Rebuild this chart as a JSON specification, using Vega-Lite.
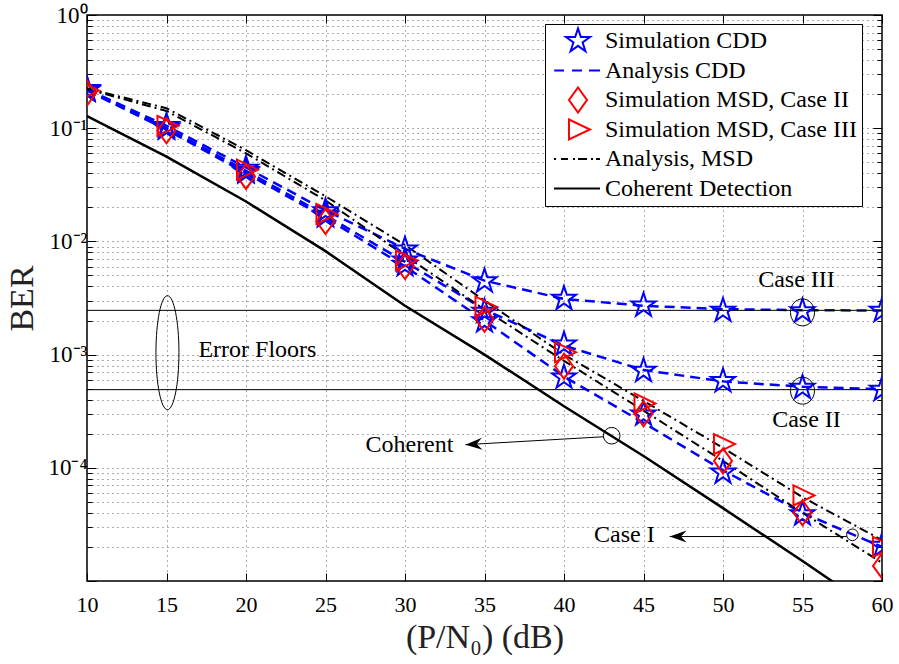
{
  "$schema": "https://vega.github.io/schema/vega-lite/v6.json",
  "width": 795,
  "height": 566,
  "autosize": "none",
  "padding": {"left": 87, "top": 15, "right": 17, "bottom": 83},
  "background": "white",
  "config": {
    "view": {"stroke": "black", "strokeWidth": 1.5},
    "font": "Liberation Serif"
  },
  "datasets": {
    "pts": [
      {"series": "Simulation CDD", "curve": "I", "snr": 10, "ber": 0.215},
      {"series": "Simulation CDD", "curve": "I", "snr": 15, "ber": 0.1},
      {"series": "Simulation CDD", "curve": "I", "snr": 20, "ber": 0.041},
      {"series": "Simulation CDD", "curve": "I", "snr": 25, "ber": 0.0168},
      {"series": "Simulation CDD", "curve": "I", "snr": 30, "ber": 0.0062},
      {"series": "Simulation CDD", "curve": "I", "snr": 35, "ber": 0.00198},
      {"series": "Simulation CDD", "curve": "I", "snr": 40, "ber": 0.00063},
      {"series": "Simulation CDD", "curve": "I", "snr": 45, "ber": 0.000297},
      {"series": "Simulation CDD", "curve": "I", "snr": 50, "ber": 0.000091},
      {"series": "Simulation CDD", "curve": "I", "snr": 55, "ber": 0.000039},
      {"series": "Simulation CDD", "curve": "I", "snr": 60, "ber": 0.0000205},
      {"series": "Simulation CDD", "curve": "II", "snr": 10, "ber": 0.218},
      {"series": "Simulation CDD", "curve": "II", "snr": 15, "ber": 0.102},
      {"series": "Simulation CDD", "curve": "II", "snr": 20, "ber": 0.042},
      {"series": "Simulation CDD", "curve": "II", "snr": 25, "ber": 0.0172},
      {"series": "Simulation CDD", "curve": "II", "snr": 30, "ber": 0.0068},
      {"series": "Simulation CDD", "curve": "II", "snr": 35, "ber": 0.0024},
      {"series": "Simulation CDD", "curve": "II", "snr": 40, "ber": 0.00123},
      {"series": "Simulation CDD", "curve": "II", "snr": 45, "ber": 0.00072},
      {"series": "Simulation CDD", "curve": "II", "snr": 50, "ber": 0.000585},
      {"series": "Simulation CDD", "curve": "II", "snr": 55, "ber": 0.00051},
      {"series": "Simulation CDD", "curve": "II", "snr": 60, "ber": 0.00049},
      {"series": "Simulation CDD", "curve": "III", "snr": 10, "ber": 0.222},
      {"series": "Simulation CDD", "curve": "III", "snr": 15, "ber": 0.105},
      {"series": "Simulation CDD", "curve": "III", "snr": 20, "ber": 0.044},
      {"series": "Simulation CDD", "curve": "III", "snr": 25, "ber": 0.0185},
      {"series": "Simulation CDD", "curve": "III", "snr": 30, "ber": 0.0085},
      {"series": "Simulation CDD", "curve": "III", "snr": 35, "ber": 0.00445},
      {"series": "Simulation CDD", "curve": "III", "snr": 40, "ber": 0.00312},
      {"series": "Simulation CDD", "curve": "III", "snr": 45, "ber": 0.00272},
      {"series": "Simulation CDD", "curve": "III", "snr": 50, "ber": 0.00245},
      {"series": "Simulation CDD", "curve": "III", "snr": 55, "ber": 0.00242},
      {"series": "Simulation CDD", "curve": "III", "snr": 60, "ber": 0.00244},
      {"series": "Simulation MSD, Case II", "curve": "II", "snr": 10, "ber": 0.205},
      {"series": "Simulation MSD, Case II", "curve": "II", "snr": 15, "ber": 0.095},
      {"series": "Simulation MSD, Case II", "curve": "II", "snr": 20, "ber": 0.0375},
      {"series": "Simulation MSD, Case II", "curve": "II", "snr": 25, "ber": 0.015},
      {"series": "Simulation MSD, Case II", "curve": "II", "snr": 30, "ber": 0.006},
      {"series": "Simulation MSD, Case II", "curve": "II", "snr": 35, "ber": 0.00205},
      {"series": "Simulation MSD, Case II", "curve": "II", "snr": 40, "ber": 0.00079},
      {"series": "Simulation MSD, Case II", "curve": "II", "snr": 45, "ber": 0.0003},
      {"series": "Simulation MSD, Case II", "curve": "II", "snr": 50, "ber": 0.000115},
      {"series": "Simulation MSD, Case II", "curve": "II", "snr": 55, "ber": 0.00004},
      {"series": "Simulation MSD, Case II", "curve": "II", "snr": 60, "ber": 0.0000136},
      {"series": "Simulation MSD, Case III", "curve": "III", "snr": 10, "ber": 0.215},
      {"series": "Simulation MSD, Case III", "curve": "III", "snr": 15, "ber": 0.105},
      {"series": "Simulation MSD, Case III", "curve": "III", "snr": 20, "ber": 0.043},
      {"series": "Simulation MSD, Case III", "curve": "III", "snr": 25, "ber": 0.0175},
      {"series": "Simulation MSD, Case III", "curve": "III", "snr": 30, "ber": 0.0068},
      {"series": "Simulation MSD, Case III", "curve": "III", "snr": 35, "ber": 0.00265},
      {"series": "Simulation MSD, Case III", "curve": "III", "snr": 40, "ber": 0.00105},
      {"series": "Simulation MSD, Case III", "curve": "III", "snr": 45, "ber": 0.00037},
      {"series": "Simulation MSD, Case III", "curve": "III", "snr": 50, "ber": 0.000162},
      {"series": "Simulation MSD, Case III", "curve": "III", "snr": 55, "ber": 0.000057},
      {"series": "Simulation MSD, Case III", "curve": "III", "snr": 60, "ber": 0.00002}
    ],
    "lines": [
      {"kind": "cdd", "curve": "cdd1", "snr": 10, "ber": 0.215},
      {"kind": "cdd", "curve": "cdd1", "snr": 15, "ber": 0.097},
      {"kind": "cdd", "curve": "cdd1", "snr": 20, "ber": 0.04},
      {"kind": "cdd", "curve": "cdd1", "snr": 25, "ber": 0.0162},
      {"kind": "cdd", "curve": "cdd1", "snr": 30, "ber": 0.006},
      {"kind": "cdd", "curve": "cdd1", "snr": 35, "ber": 0.002},
      {"kind": "cdd", "curve": "cdd1", "snr": 40, "ber": 0.00064},
      {"kind": "cdd", "curve": "cdd1", "snr": 45, "ber": 0.00025},
      {"kind": "cdd", "curve": "cdd1", "snr": 50, "ber": 0.000095},
      {"kind": "cdd", "curve": "cdd1", "snr": 55, "ber": 0.00004},
      {"kind": "cdd", "curve": "cdd1", "snr": 60, "ber": 0.00002},
      {"kind": "cdd", "curve": "cdd2", "snr": 10, "ber": 0.218},
      {"kind": "cdd", "curve": "cdd2", "snr": 15, "ber": 0.1},
      {"kind": "cdd", "curve": "cdd2", "snr": 20, "ber": 0.042},
      {"kind": "cdd", "curve": "cdd2", "snr": 25, "ber": 0.017},
      {"kind": "cdd", "curve": "cdd2", "snr": 30, "ber": 0.0066},
      {"kind": "cdd", "curve": "cdd2", "snr": 35, "ber": 0.0025},
      {"kind": "cdd", "curve": "cdd2", "snr": 40, "ber": 0.0012},
      {"kind": "cdd", "curve": "cdd2", "snr": 45, "ber": 0.00073},
      {"kind": "cdd", "curve": "cdd2", "snr": 50, "ber": 0.00058},
      {"kind": "cdd", "curve": "cdd2", "snr": 55, "ber": 0.00052},
      {"kind": "cdd", "curve": "cdd2", "snr": 60, "ber": 0.000495},
      {"kind": "cdd", "curve": "cdd3", "snr": 10, "ber": 0.22},
      {"kind": "cdd", "curve": "cdd3", "snr": 15, "ber": 0.105},
      {"kind": "cdd", "curve": "cdd3", "snr": 20, "ber": 0.045},
      {"kind": "cdd", "curve": "cdd3", "snr": 25, "ber": 0.0188},
      {"kind": "cdd", "curve": "cdd3", "snr": 30, "ber": 0.0086},
      {"kind": "cdd", "curve": "cdd3", "snr": 35, "ber": 0.0045},
      {"kind": "cdd", "curve": "cdd3", "snr": 40, "ber": 0.0031},
      {"kind": "cdd", "curve": "cdd3", "snr": 45, "ber": 0.0027},
      {"kind": "cdd", "curve": "cdd3", "snr": 50, "ber": 0.00252},
      {"kind": "cdd", "curve": "cdd3", "snr": 55, "ber": 0.00247},
      {"kind": "cdd", "curve": "cdd3", "snr": 60, "ber": 0.00245},
      {"kind": "msd", "curve": "msd3", "snr": 10, "ber": 0.225},
      {"kind": "msd", "curve": "msd3", "snr": 15, "ber": 0.15},
      {"kind": "msd", "curve": "msd3", "snr": 20, "ber": 0.064},
      {"kind": "msd", "curve": "msd3", "snr": 25, "ber": 0.025},
      {"kind": "msd", "curve": "msd3", "snr": 30, "ber": 0.0093},
      {"kind": "msd", "curve": "msd3", "snr": 35, "ber": 0.003},
      {"kind": "msd", "curve": "msd3", "snr": 40, "ber": 0.001},
      {"kind": "msd", "curve": "msd3", "snr": 45, "ber": 0.00039},
      {"kind": "msd", "curve": "msd3", "snr": 50, "ber": 0.00015},
      {"kind": "msd", "curve": "msd3", "snr": 55, "ber": 0.000055},
      {"kind": "msd", "curve": "msd3", "snr": 60, "ber": 0.000023},
      {"kind": "msd", "curve": "msd2", "snr": 10, "ber": 0.222},
      {"kind": "msd", "curve": "msd2", "snr": 15, "ber": 0.142},
      {"kind": "msd", "curve": "msd2", "snr": 20, "ber": 0.06},
      {"kind": "msd", "curve": "msd2", "snr": 25, "ber": 0.023},
      {"kind": "msd", "curve": "msd2", "snr": 30, "ber": 0.0075},
      {"kind": "msd", "curve": "msd2", "snr": 35, "ber": 0.0025},
      {"kind": "msd", "curve": "msd2", "snr": 40, "ber": 0.00088},
      {"kind": "msd", "curve": "msd2", "snr": 45, "ber": 0.00032},
      {"kind": "msd", "curve": "msd2", "snr": 50, "ber": 0.000115},
      {"kind": "msd", "curve": "msd2", "snr": 55, "ber": 0.00004},
      {"kind": "msd", "curve": "msd2", "snr": 60, "ber": 0.0000145},
      {"kind": "coh", "curve": "coh", "snr": 10, "ber": 0.128},
      {"kind": "coh", "curve": "coh", "snr": 15, "ber": 0.056},
      {"kind": "coh", "curve": "coh", "snr": 20, "ber": 0.0225},
      {"kind": "coh", "curve": "coh", "snr": 25, "ber": 0.0082},
      {"kind": "coh", "curve": "coh", "snr": 30, "ber": 0.0027},
      {"kind": "coh", "curve": "coh", "snr": 35, "ber": 0.001},
      {"kind": "coh", "curve": "coh", "snr": 40, "ber": 0.00035},
      {"kind": "coh", "curve": "coh", "snr": 45, "ber": 0.000127},
      {"kind": "coh", "curve": "coh", "snr": 50, "ber": 0.000044},
      {"kind": "coh", "curve": "coh", "snr": 55, "ber": 0.000015},
      {"kind": "coh", "curve": "coh", "snr": 60, "ber": 0.000005}
    ],
    "floors": [{"ber": 0.00246}, {"ber": 0.00049}],
    "notes": [
      {"label": "Case III", "snr": 54.62, "ber": 0.00459},
      {"label": "Case II", "snr": 55.25, "ber": 0.000266},
      {"label": "Case I", "snr": 43.8, "ber": 0.0000256},
      {"label": "Coherent", "snr": 30.28, "ber": 0.00016},
      {"label": "Error Floors", "snr": 20.72, "ber": 0.0011}
    ],
    "arrows": [
      {"name": "coherent", "snr": 42.49, "ber": 0.000188, "snr2": 33.8, "ber2": 0.00016},
      {"name": "case1", "snr": 57.78, "ber": 0.0000247, "snr2": 46.65, "ber2": 0.0000247}
    ]
  },
  "resolve": {"axis": {"x": "independent", "y": "independent"}},
  "layer": [
    {
      "data": {"name": "lines"},
      "transform": [{"filter": "datum.kind == 'coh'"}],
      "mark": {"type": "line", "stroke": "black", "strokeWidth": 2.5, "clip": true},
      "encoding": {
        "x": {
          "field": "snr", "type": "quantitative",
          "scale": {"domain": [10, 60], "nice": false, "zero": false},
          "axis": {
            "orient": "bottom",
            "values": [10, 15, 20, 25, 30, 35, 40, 45, 50, 55, 60],
            "grid": true, "gridDash": [1, 4], "gridColor": "#333", "gridWidth": 1, "gridOpacity": 0.8,
            "domain": false,
            "tickSize": -8, "tickColor": "black", "tickWidth": 1,
            "labelFont": "Liberation Serif", "labelFontSize": 22, "labelColor": "black",
            "labelFlush": false, "labelAngle": 0, "labelPadding": 21,
            "title": "(P/N₀)  (dB)", "titleFont": "Liberation Serif", "titleFontSize": 34,
            "titleFontWeight": "normal", "titleColor": "#222", "titlePadding": 5
          }
        },
        "y": {
          "field": "ber", "type": "quantitative",
          "scale": {"type": "log", "domain": [0.00001, 1], "nice": false},
          "axis": {
            "orient": "left",
            "values": [1, 0.9, 0.8, 0.7, 0.6, 0.5, 0.4, 0.3, 0.2, 0.1, 0.09, 0.08, 0.07, 0.06, 0.05, 0.04, 0.03, 0.02, 0.01, 0.009, 0.008, 0.007, 0.006, 0.005, 0.004, 0.003, 0.002, 0.001, 0.0009, 0.0008, 0.0007, 0.0006, 0.0005, 0.0004, 0.0003, 0.0002, 0.0001, 0.00009, 0.00008, 0.00007, 0.00006, 0.00005, 0.00004, 0.00003, 0.00002, 0.00001],
            "labelExpr": "datum.value == 1 ? '10⁰' : datum.value == 0.1 ? '10⁻¹' : datum.value == 0.01 ? '10⁻²' : datum.value == 0.001 ? '10⁻³' : datum.value == 0.0001 ? '10⁻⁴' : ''",
            "grid": true, "gridDash": [1, 4], "gridColor": "#333", "gridWidth": 1, "gridOpacity": 0.8,
            "domain": false,
            "tickSize": {"condition": {"test": "datum.value == 1 || datum.value == 0.1 || datum.value == 0.01 || datum.value == 0.001 || datum.value == 0.0001 || datum.value == 0.00001", "value": -9}, "value": -5},
            "tickColor": "black", "tickWidth": 1,
            "labelFont": "Liberation Serif", "labelFontSize": 23, "labelColor": "black",
            "labelPadding": 9, "labelFlush": false,
            "title": "BER", "titleFont": "Liberation Serif", "titleFontSize": 34,
            "titleFontWeight": "normal", "titleColor": "#222", "titlePadding": 8
          }
        }
      }
    },
    {
      "data": {"name": "lines"},
      "transform": [{"filter": "datum.kind == 'cdd'"}],
      "mark": {"type": "line", "stroke": "#0000ff", "strokeWidth": 2.5, "strokeDash": [10, 6], "clip": true},
      "encoding": {
        "x": {
          "field": "snr", "type": "quantitative",
          "axis": {"orient": "top", "values": [10, 15, 20, 25, 30, 35, 40, 45, 50, 55, 60], "labels": false, "grid": false, "domain": false, "tickSize": -8, "tickColor": "black", "title": null}
        },
        "y": {
          "field": "ber", "type": "quantitative",
          "axis": {
            "orient": "right",
            "values": [1, 0.9, 0.8, 0.7, 0.6, 0.5, 0.4, 0.3, 0.2, 0.1, 0.09, 0.08, 0.07, 0.06, 0.05, 0.04, 0.03, 0.02, 0.01, 0.009, 0.008, 0.007, 0.006, 0.005, 0.004, 0.003, 0.002, 0.001, 0.0009, 0.0008, 0.0007, 0.0006, 0.0005, 0.0004, 0.0003, 0.0002, 0.0001, 0.00009, 0.00008, 0.00007, 0.00006, 0.00005, 0.00004, 0.00003, 0.00002, 0.00001],
            "labels": false, "grid": false, "domain": false,
            "tickSize": {"condition": {"test": "datum.value == 1 || datum.value == 0.1 || datum.value == 0.01 || datum.value == 0.001 || datum.value == 0.0001 || datum.value == 0.00001", "value": -9}, "value": -5},
            "tickColor": "black", "title": null
          }
        },
        "detail": {"field": "curve", "type": "nominal"}
      }
    },
    {
      "data": {"name": "lines"},
      "transform": [{"filter": "datum.kind == 'msd'"}],
      "mark": {"type": "line", "stroke": "black", "strokeWidth": 2, "strokeDash": [9, 4, 2, 4], "clip": true},
      "encoding": {
        "x": {"field": "snr", "type": "quantitative", "axis": null},
        "y": {"field": "ber", "type": "quantitative", "axis": null},
        "detail": {"field": "curve", "type": "nominal"}
      }
    },
    {
      "data": {"name": "floors"},
      "mark": {"type": "rule", "stroke": "black", "strokeWidth": 1},
      "encoding": {
        "y": {"field": "ber", "type": "quantitative", "axis": null}
      }
    },
    {
      "data": {"name": "pts"},
      "mark": {"type": "point", "filled": false, "strokeWidth": 2, "size": 196, "opacity": 1, "clip": true},
      "encoding": {
        "x": {"field": "snr", "type": "quantitative", "axis": null},
        "y": {"field": "ber", "type": "quantitative", "axis": null},
        "shape": {
          "field": "series", "type": "nominal",
          "scale": {
            "domain": ["Simulation CDD", "Analysis CDD", "Simulation MSD, Case II", "Simulation MSD, Case III", "Analysis, MSD", "Coherent Detection"],
            "range": [
              "M0,-1.8L0.406,-0.558L1.712,-0.556L0.656,0.213L1.058,1.456L0,0.69L-1.058,1.456L-0.656,0.213L-1.712,-0.556L-0.406,-0.558Z",
              "M-3.4,0L-2,0M-0.86,0L0.57,0M1.57,0L3.14,0",
              "M0,-1.79L1.29,0L0,1.79L-1.29,0Z",
              "M-1.29,-1.43L1.71,0L-1.29,1.43Z",
              "M-3.43,0L-3.14,0M-2.43,0L-1.43,0M-0.71,0L-0.43,0M0,0L1.29,0M1.86,0L2.14,0M2.57,0L3.14,0",
              "M-3.43,0L3.14,0"
            ]
          },
          "legend": {
            "title": null, "orient": "none", "legendX": 458, "legendY": 9,
            "padding": 5, "strokeColor": "black", "fillColor": "white",
            "labelFont": "Liberation Serif", "labelFontSize": 24, "labelColor": "black", "labelLimit": 400,
            "labelExpr": "datum.label + '\u2002'",
            "symbolSize": 196, "symbolStrokeWidth": 2, "symbolOffset": 16, "labelOffset": 15,
            "gridAlign": "all", "rowPadding": -4.5
          }
        },
        "stroke": {
          "field": "series", "type": "nominal",
          "scale": {
            "domain": ["Simulation CDD", "Analysis CDD", "Simulation MSD, Case II", "Simulation MSD, Case III", "Analysis, MSD", "Coherent Detection"],
            "range": ["#0000ff", "#0000ff", "#ff0000", "#ff0000", "#000000", "#000000"]
          },
          "legend": {
            "title": null, "orient": "none", "legendX": 458, "legendY": 9,
            "padding": 5, "strokeColor": "black", "fillColor": "white",
            "labelFont": "Liberation Serif", "labelFontSize": 24, "labelColor": "black", "labelLimit": 400,
            "labelExpr": "datum.label + '\u2002'",
            "symbolSize": 196, "symbolStrokeWidth": 2, "symbolOffset": 16, "labelOffset": 15,
            "gridAlign": "all", "rowPadding": -4.5
          }
        }
      }
    },
    {
      "data": {"name": "notes"},
      "mark": {"type": "text", "font": "Liberation Serif", "fontSize": 24, "color": "black", "align": "center", "baseline": "middle"},
      "encoding": {
        "x": {"field": "snr", "type": "quantitative", "axis": null},
        "y": {"field": "ber", "type": "quantitative", "axis": null},
        "text": {"field": "label"}
      }
    },
    {
      "data": {"values": [{"snr": 15.06, "ber": 0.00104}]},
      "mark": {"type": "point", "shape": "M0,-5.7C0.63,-5.7 1.15,-3.15 1.15,0C1.15,3.15 0.63,5.7 0,5.7C-0.63,5.7 -1.15,3.15 -1.15,0C-1.15,-3.15 -0.63,-5.7 0,-5.7Z", "size": 400, "filled": false, "stroke": "black", "strokeWidth": 1, "opacity": 1},
      "encoding": {
        "x": {"field": "snr", "type": "quantitative", "axis": null},
        "y": {"field": "ber", "type": "quantitative", "axis": null}
      }
    },
    {
      "data": {"values": [{"snr": 55, "ber": 0.00236}, {"snr": 55, "ber": 0.00048}]},
      "mark": {"type": "point", "shape": "M0,-1.35C0.66,-1.35 1.2,-0.75 1.2,0C1.2,0.75 0.66,1.35 0,1.35C-0.66,1.35 -1.2,0.75 -1.2,0C-1.2,-0.75 -0.66,-1.35 0,-1.35Z", "size": 400, "filled": false, "stroke": "black", "strokeWidth": 1, "opacity": 1},
      "encoding": {
        "x": {"field": "snr", "type": "quantitative", "axis": null},
        "y": {"field": "ber", "type": "quantitative", "axis": null}
      }
    },
    {
      "data": {"values": [{"snr": 43, "ber": 0.000192}]},
      "mark": {"type": "point", "shape": "circle", "size": 276, "filled": false, "stroke": "black", "strokeWidth": 1, "opacity": 1},
      "encoding": {
        "x": {"field": "snr", "type": "quantitative", "axis": null},
        "y": {"field": "ber", "type": "quantitative", "axis": null}
      }
    },
    {
      "data": {"values": [{"snr": 58.14, "ber": 0.0000256}]},
      "mark": {"type": "point", "shape": "circle", "size": 135, "filled": false, "stroke": "black", "strokeWidth": 1, "opacity": 1},
      "encoding": {
        "x": {"field": "snr", "type": "quantitative", "axis": null},
        "y": {"field": "ber", "type": "quantitative", "axis": null}
      }
    },
    {
      "data": {"name": "arrows"},
      "mark": {"type": "rule", "stroke": "black", "strokeWidth": 1},
      "encoding": {
        "x": {"field": "snr", "type": "quantitative", "axis": null},
        "y": {"field": "ber", "type": "quantitative", "axis": null},
        "x2": {"field": "snr2"},
        "y2": {"field": "ber2"}
      }
    },
    {
      "data": {"name": "arrows"},
      "transform": [{"filter": "datum.name == 'coherent'"}],
      "mark": {"type": "point", "shape": "M0,0L2.4,-0.85L1.6,0L2.4,0.85Z", "size": 196, "filled": true, "fill": "black", "strokeWidth": 0, "opacity": 1, "angle": 356.7},
      "encoding": {
        "x": {"field": "snr2", "type": "quantitative", "axis": null},
        "y": {"field": "ber2", "type": "quantitative", "axis": null}
      }
    },
    {
      "data": {"name": "arrows"},
      "transform": [{"filter": "datum.name == 'case1'"}],
      "mark": {"type": "point", "shape": "M0,0L2.4,-0.85L1.6,0L2.4,0.85Z", "size": 196, "filled": true, "fill": "black", "strokeWidth": 0, "opacity": 1, "angle": 0},
      "encoding": {
        "x": {"field": "snr2", "type": "quantitative", "axis": null},
        "y": {"field": "ber2", "type": "quantitative", "axis": null}
      }
    }
  ]
}
